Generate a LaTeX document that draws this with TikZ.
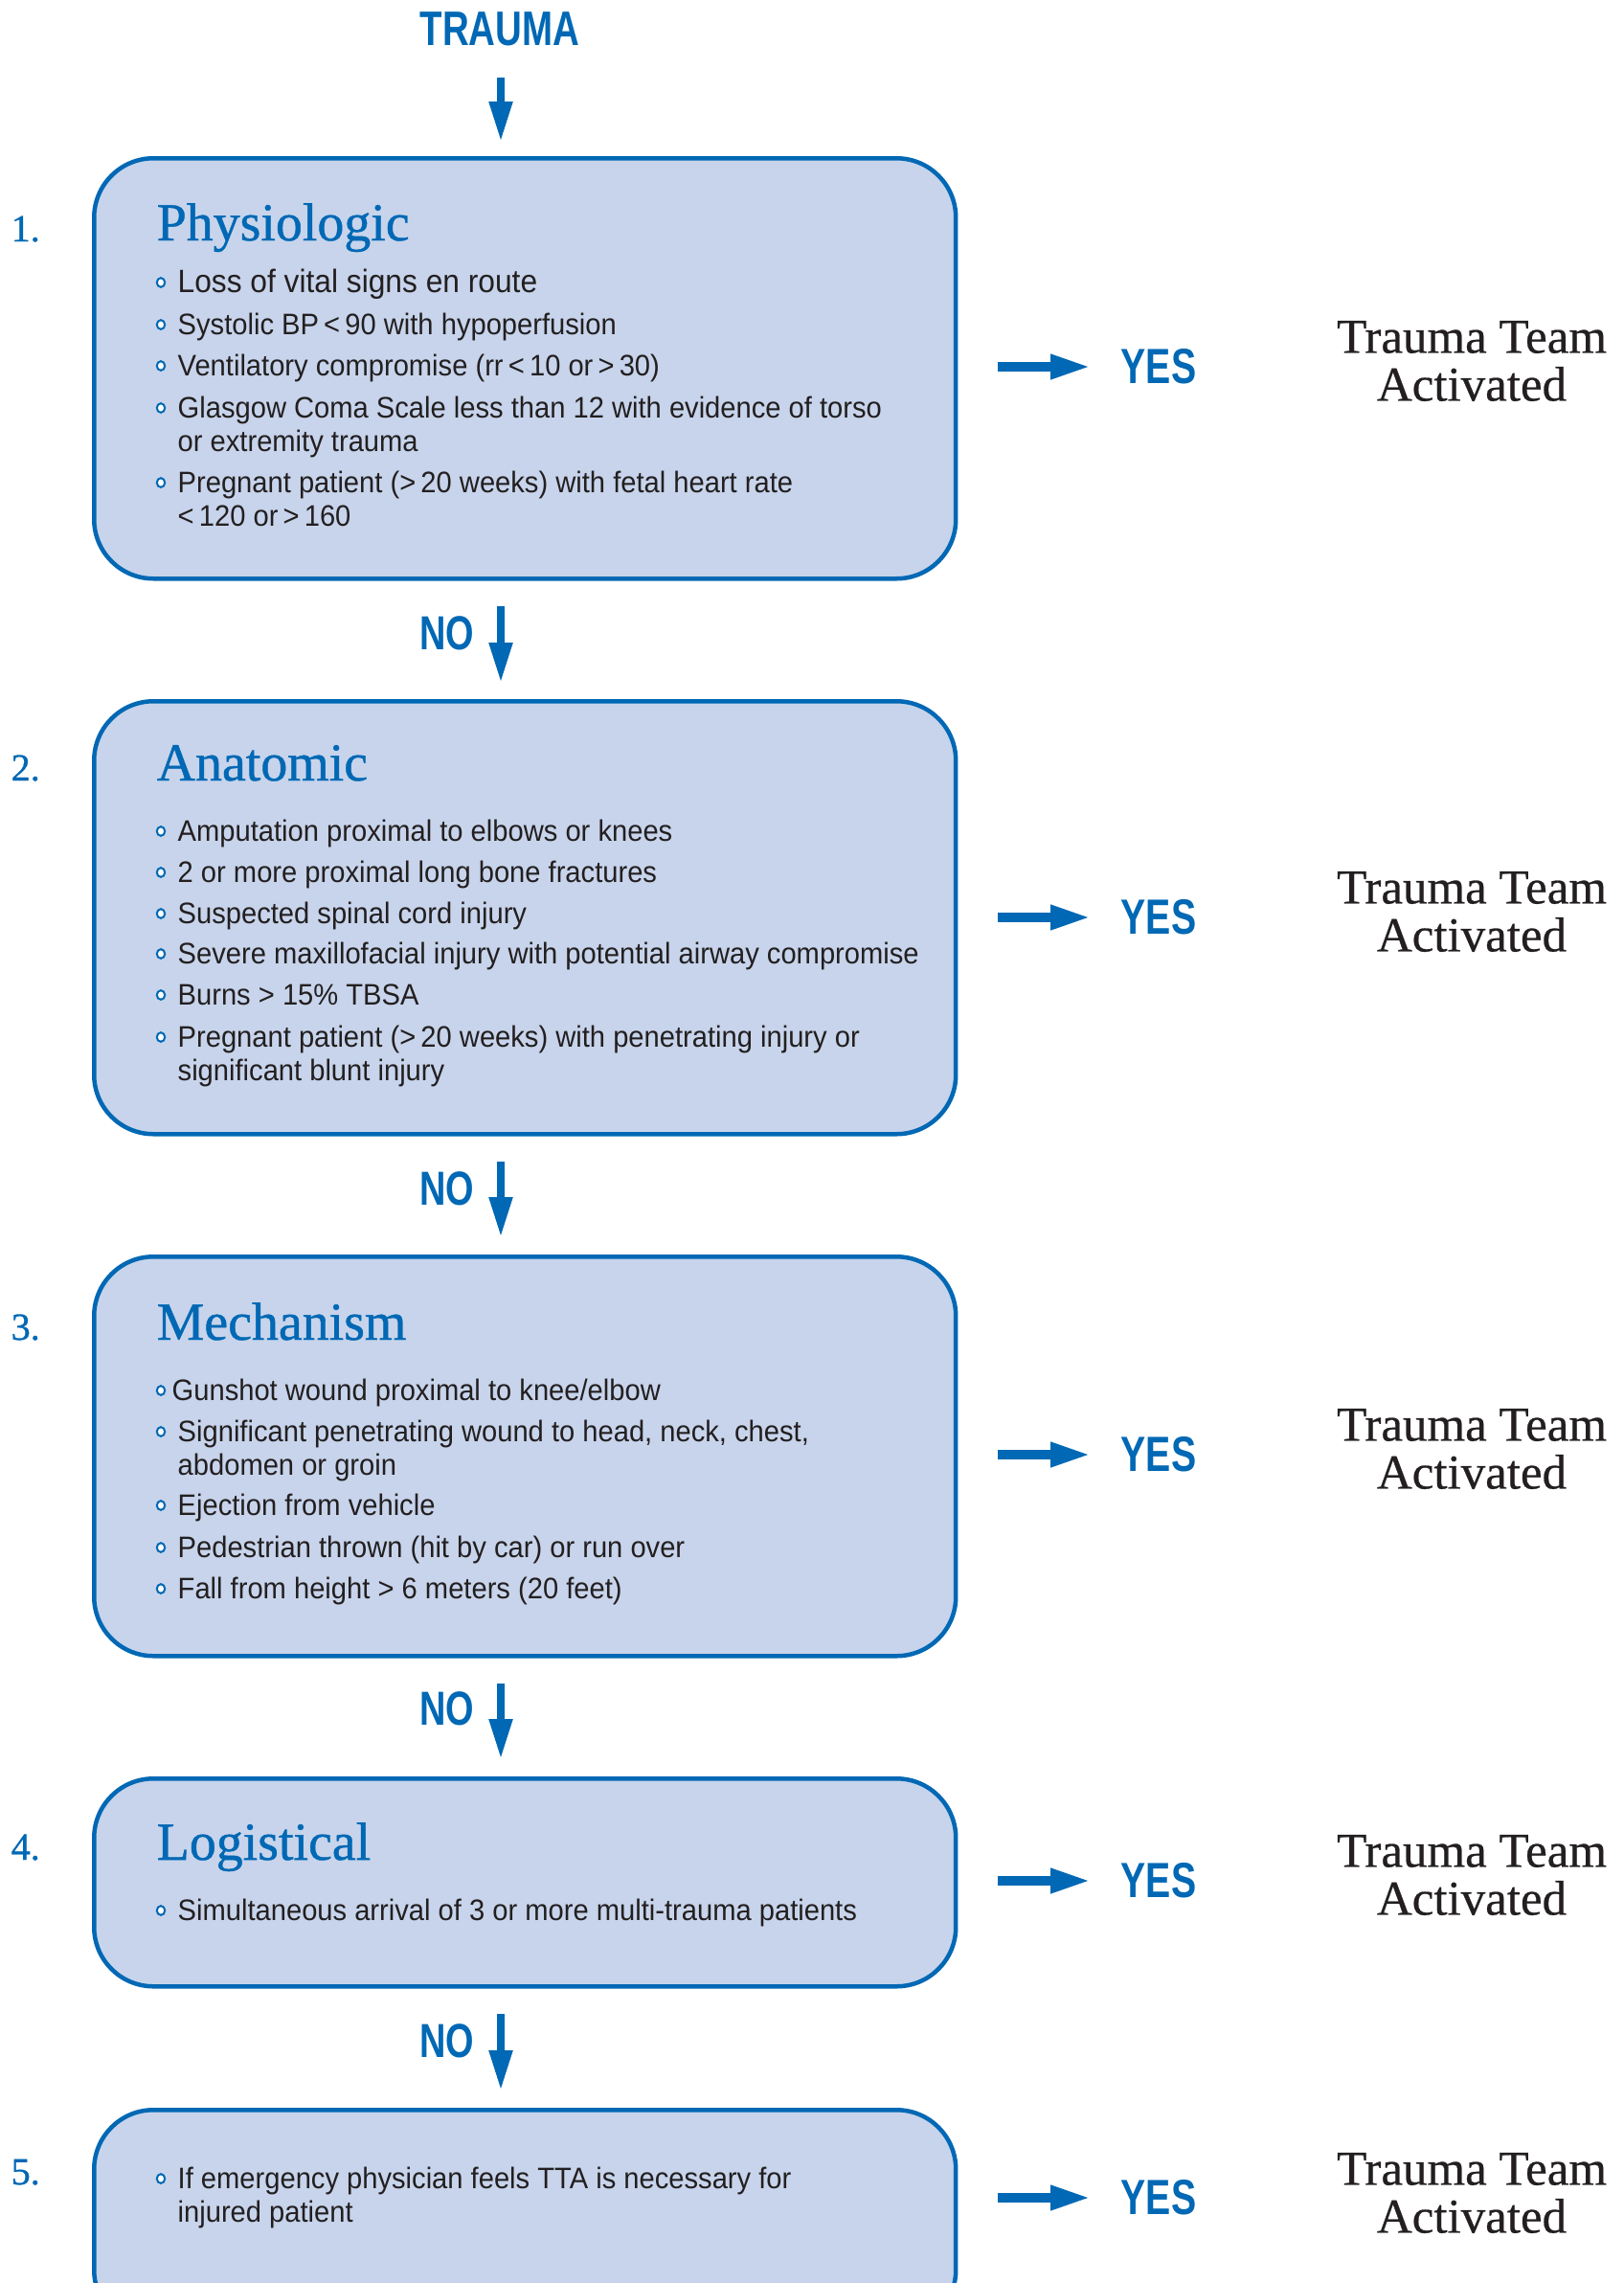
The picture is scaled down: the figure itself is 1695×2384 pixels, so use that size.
\documentclass[tikz,border=0pt]{standalone}
\usepackage{fontspec}
\setmainfont{Liberation Serif}
\setsansfont{Liberation Sans}
\newfontfamily\condfont[FakeStretch=0.76]{Liberation Sans}
\newfontfamily\itemfont[FakeStretch=0.94]{Liberation Sans}
\newfontfamily\headfont[FakeBold=0.8]{Liberation Serif}
\newfontfamily\teamfont[FakeBold=0.5]{Liberation Serif}
\usetikzlibrary{arrows.meta,calc}
\definecolor{tblue}{RGB}{0,104,180}
\definecolor{tfill}{RGB}{199,212,235}
\definecolor{tink}{RGB}{35,31,32}
\newcommand\twol[2]{\begin{tabular}[t]{@{}l@{}}#1\\#2\end{tabular}}
\newcommand\mkitem[4]{%
  \node[itemst] (#1) at (#2,#3) {#4};
  \draw[bul] ($(#1.base west)+(168-#2,-10)$) ellipse [x radius=0.42mm, y radius=0.48mm];}
\tikzset{
 boxst/.style={draw=tblue, fill=tfill, line width=0.45mm, rounded corners=6.2mm, rectangle, inner sep=0pt, anchor=north west, minimum width=90mm},
 headst/.style={anchor=base west, inner sep=0pt, text=tblue, font=\headfont\fontsize{15.9}{18}\selectfont},
 numst/.style={anchor=base west, inner sep=0pt, text=tblue, font=\headfont\fontsize{11.4}{13}\selectfont},
 itemst/.style={anchor=base west, inner sep=0pt, text=tink, font=\itemfont\fontsize{8.82}{9.96}\selectfont},
 yesst/.style={inner sep=0pt, text=tblue, font=\condfont\bfseries\fontsize{14.7}{16}\selectfont},
 nost/.style={inner sep=0pt, text=tblue, font=\condfont\bfseries\fontsize{14.2}{16}\selectfont},
 teamst/.style={inner sep=0pt, text=tink, align=center, font=\teamfont\fontsize{14.5}{14.23}\selectfont},
 darr/.style={draw=tblue, line width=0.8mm, -{Triangle[length=4.2mm,width=2.3mm]}},
 rarr/.style={draw=tblue, line width=0.95mm, -{Triangle[length=4.2mm,width=2.4mm]}},
 bul/.style={draw=tblue, fill=white, line width=0.2mm}
}
\begin{document}
\begin{tikzpicture}[x=0.1mm,y=-0.1mm]
\useasboundingbox (0,0) rectangle (1695,2384);
% title
\node[yesst, font=\condfont\bfseries\fontsize{14.4}{16}\selectfont] (trauma) at (522,30) {TRAUMA};
\coordinate (ax) at (523,0);
% boxes
\node[boxst, minimum height=43.9mm] (box1) at (96,163) {};
\node[boxst, minimum height=45.2mm] (box2) at (96,730) {};
\node[boxst, minimum height=41.7mm] (box3) at (96,1310) {};
\node[boxst, minimum height=21.7mm] (box4) at (96,1855) {};
\node[boxst, minimum height=22.9mm] (box5) at (96,2201) {};
% numbers
\node[numst] (n1) at (11,252) {1.};
\node[numst] (n2) at (11,815) {2.};
\node[numst] (n3) at (11,1399) {3.};
\node[numst] (n4) at (11,1942) {4.};
\node[numst] (n5) at (11,2281) {5.};
% headings
\node[headst] (h1) at (163,251) {Physiologic};
\node[headst] (h2) at (163,815) {Anatomic};
\node[headst] (h3) at (163,1399) {Mechanism};
\node[headst] (h4) at (163,1942) {Logistical};
% box 1 items
\mkitem{a1}{185}{305}{\fontsize{9.6}{10}\selectfont Loss of vital signs en route}
\mkitem{a2}{185}{349}{Systolic BP\,<\,90 with hypoperfusion}
\mkitem{a3}{185}{392}{Ventilatory compromise (rr\,<\,10 or\,>\,30)}
\mkitem{a4}{185}{436}{\twol{Glasgow Coma Scale less than 12 with evidence of torso}{or extremity trauma}}
\mkitem{a5}{185}{514}{\twol{Pregnant patient (>\,20 weeks) with fetal heart rate}{<\,120 or\,>\,160}}
% box 2 items
\mkitem{b1}{185}{878}{Amputation proximal to elbows or knees}
\mkitem{b2}{185}{921}{2 or more proximal long bone fractures}
\mkitem{b3}{185}{964}{Suspected spinal cord injury}
\mkitem{b4}{185}{1006}{Severe maxillofacial injury with potential airway compromise}
\mkitem{b5}{185}{1049}{Burns > 15\% TBSA}
\mkitem{b6}{185}{1093}{\twol{Pregnant patient (>\,20 weeks) with penetrating injury or}{significant blunt injury}}
% box 3 items
\mkitem{c1}{179}{1462}{Gunshot wound proximal to knee/elbow}
\mkitem{c2}{185}{1505}{\twol{Significant penetrating wound to head, neck, chest,}{abdomen or groin}}
\mkitem{c3}{185}{1582}{Ejection from vehicle}
\mkitem{c4}{185}{1626}{Pedestrian thrown (hit by car) or run over}
\mkitem{c5}{185}{1669}{Fall from height > 6 meters (20 feet)}
% box 4 / 5 items
\mkitem{d1}{185}{2005}{Simultaneous arrival of 3 or more multi-trauma patients}
\mkitem{e1}{185}{2285}{\twol{If emergency physician feels TTA is necessary for}{injured patient}}
% NO labels
\node[nost] (no1) at (467,661) {NO};
\node[nost] (no2) at (467,1241) {NO};
\node[nost] (no3) at (467,1784) {NO};
\node[nost] (no4) at (467,2131) {NO};
% down arrows
\draw[darr] ([yshift=-3.3mm]trauma.south -| ax) -- ([yshift=1.5mm]box1.north -| ax);
\draw[darr] ([yshift=-2.6mm]box1.south -| ax) -- ([yshift=1.7mm]box2.north -| ax);
\draw[darr] ([yshift=-2.6mm]box2.south -| ax) -- ([yshift=1.8mm]box3.north -| ax);
\draw[darr] ([yshift=-2.6mm]box3.south -| ax) -- ([yshift=1.8mm]box4.north -| ax);
\draw[darr] ([yshift=-2.6mm]box4.south -| ax) -- ([yshift=1.8mm]box5.north -| ax);
% YES and outcome
\foreach \i/\y in {1/383, 2/958, 3/1519, 4/1964, 5/2295}{
  \node[yesst] (yes\i) at (1210,\y) {YES};
  \draw[rarr] ([xshift=4.2mm]box\i.east |- yes\i.center) -- ([xshift=-3.1mm]yes\i.west);
}
\node[teamst] (tt1) at (1537,377) {Trauma Team\\Activated};
\node[teamst] (tt2) at (1537,952) {Trauma Team\\Activated};
\node[teamst] (tt3) at (1537,1513) {Trauma Team\\Activated};
\node[teamst] (tt4) at (1537,1958) {Trauma Team\\Activated};
\node[teamst] (tt5) at (1537,2290) {Trauma Team\\Activated};
\end{tikzpicture}
\end{document}
